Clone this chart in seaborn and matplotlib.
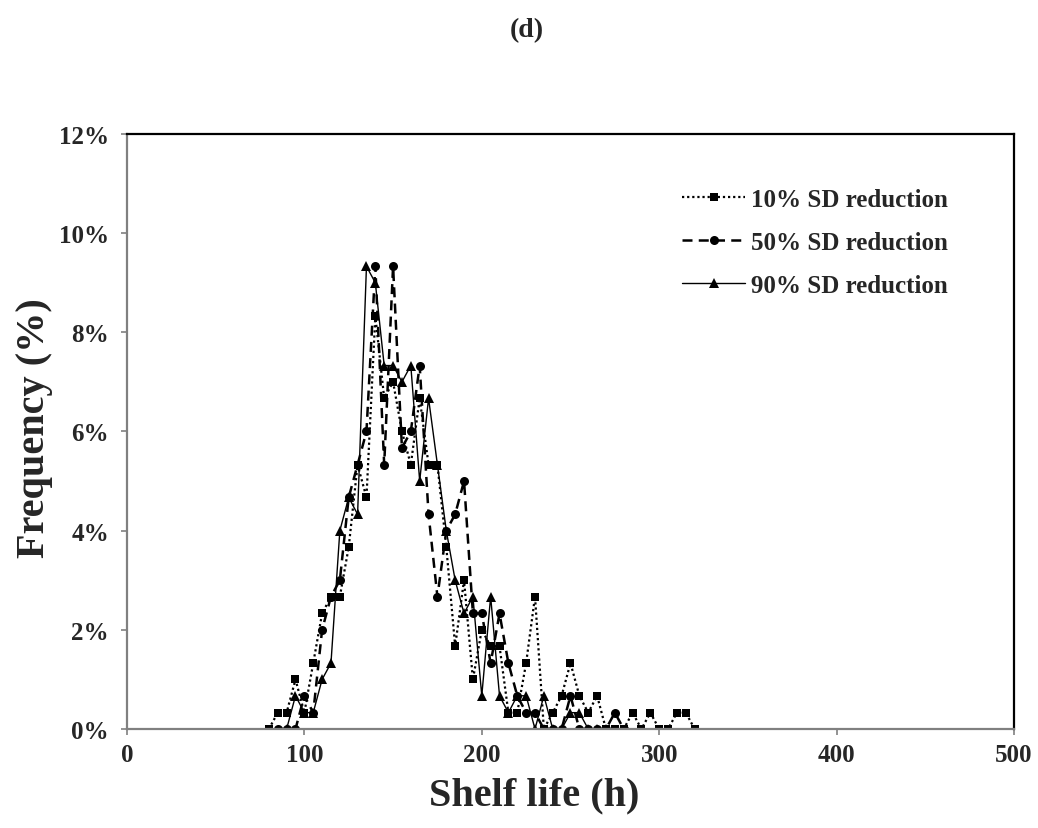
import matplotlib
matplotlib.use("Agg")
import matplotlib.pyplot as plt
import seaborn as sns
import pandas as pd
from matplotlib.ticker import PercentFormatter, MultipleLocator

# ---- data ----
shelf_life_10 = [80, 85, 90, 95, 100, 105, 110, 115, 120, 125, 130, 135, 140, 145, 150,
                 155, 160, 165, 170, 175, 180, 185, 190, 195, 200, 205, 210, 215, 220,
                 225, 230, 235, 240, 245, 250, 255, 260, 265, 270, 275, 280, 285, 290,
                 295, 300, 305, 310, 315, 320]
freq_10 = [0, 0.33, 0.33, 1.0, 0.33, 1.33, 2.33, 2.67, 2.67, 3.67, 5.33, 4.67, 8.33, 6.67, 7.0,
           6.0, 5.33, 6.67, 5.33, 5.33, 3.67, 1.67, 3.0, 1.0, 2.0, 1.67, 1.67, 0.33, 0.33,
           1.33, 2.67, 0, 0.33, 0.67, 1.33, 0.67, 0.33, 0.67, 0, 0, 0, 0.33, 0,
           0.33, 0, 0, 0.33, 0.33, 0]

shelf_life_50 = [85, 90, 95, 100, 105, 110, 115, 120, 125, 130, 135, 140, 145, 150, 155,
                 160, 165, 170, 175, 180, 185, 190, 195, 200, 205, 210, 215, 220, 225,
                 230, 235, 240, 245, 250, 255, 260, 265, 270, 275, 280]
freq_50 = [0, 0, 0, 0.67, 0.33, 2.0, 2.67, 3.0, 4.67, 5.33, 6.0, 9.33, 5.33, 9.33, 5.67,
           6.0, 7.33, 4.33, 2.67, 4.0, 4.33, 5.0, 2.33, 2.33, 1.33, 2.33, 1.33, 0.67, 0.33,
           0.33, 0, 0, 0, 0.67, 0, 0, 0, 0, 0.33, 0]

shelf_life_90 = [90, 95, 100, 105, 110, 115, 120, 125, 130, 135, 140, 145, 150, 155, 160,
                 165, 170, 175, 180, 185, 190, 195, 200, 205, 210, 215, 220, 225, 230,
                 235, 240, 245, 250, 255, 260, 265, 270]
freq_90 = [0, 0.67, 0.33, 0.33, 1.0, 1.33, 4.0, 4.67, 4.33, 9.33, 9.0, 7.33, 7.33, 7.0, 7.33,
           5.0, 6.67, 5.33, 4.0, 3.0, 2.33, 2.67, 0.67, 2.67, 0.67, 0.33, 0.67, 0.67, 0,
           0.67, 0, 0, 0.33, 0.33, 0, 0, 0]

series_labels = ["10% SD reduction", "50% SD reduction", "90% SD reduction"]
x_ticks = [0, 100, 200, 300, 400, 500]
title_text = "(d)"
x_label = "Shelf life (h)"
y_label = "Frequency (%)"

# ---- style ----
sns.set_theme(style="white")
plt.rcParams["font.family"] = ["Liberation Serif", "DejaVu Serif"]
plt.rcParams["font.weight"] = "bold"

fig = plt.figure(figsize=(10.38, 8.29), dpi=100)
ax = fig.add_axes([0.1223, 0.1194, 0.8546, 0.7178])

df10 = pd.DataFrame({"x": shelf_life_10, "y": freq_10})
df50 = pd.DataFrame({"x": shelf_life_50, "y": freq_50})
df90 = pd.DataFrame({"x": shelf_life_90, "y": freq_90})

sns.lineplot(data=df10, x="x", y="y", ax=ax, color="black", linestyle=(0, (1, 1.3)),
             linewidth=1.6, marker="s", markersize=6, markeredgewidth=0,
             label=series_labels[0], sort=False)
sns.lineplot(data=df50, x="x", y="y", ax=ax, color="black", linestyle=(0, (4, 2.5)),
             linewidth=1.8, marker="o", markersize=6.5, markeredgewidth=0,
             label=series_labels[1], sort=False)
sns.lineplot(data=df90, x="x", y="y", ax=ax, color="black", linestyle="-",
             linewidth=1.0, marker="^", markersize=7, markeredgewidth=0,
             label=series_labels[2], sort=False)

ax.set_xlim(0, 500)
ax.set_ylim(0, 12)
ax.set_xticks(x_ticks)
ax.yaxis.set_major_locator(MultipleLocator(2))
ax.yaxis.set_major_formatter(PercentFormatter(decimals=0))

for s in ["left", "bottom"]:
    ax.spines[s].set_color("#808080")
    ax.spines[s].set_linewidth(1.6)
for s in ["top", "right"]:
    ax.spines[s].set_color("black")
    ax.spines[s].set_linewidth(1.6)

ax.tick_params(axis="both", direction="out", length=4, width=1.2, color="#808080",
               labelsize=18, bottom=True, left=True)
ax.tick_params(axis="y", pad=9)
ax.tick_params(axis="x", pad=6)
for lbl in ax.get_xticklabels() + ax.get_yticklabels():
    lbl.set_fontweight("bold")

ax.set_xlabel(x_label, fontsize=29, fontweight="bold")
ax.set_ylabel(y_label, fontsize=29, fontweight="bold")
ax.xaxis.label.set_va("center")
ax.yaxis.label.set_va("center")
ax.xaxis.set_label_coords(0.459, -0.11)
ax.yaxis.set_label_coords(-0.104, 0.508)

fig.text(0.508, 0.963, title_text, ha="center", va="center", fontsize=20, fontweight="bold")

leg = ax.legend(loc="upper left", bbox_to_anchor=(0.626, 0.91), frameon=False,
                prop={"size": 18, "weight": "bold"}, handlelength=2.5,
                handletextpad=0.25, labelspacing=0.8, borderpad=0, borderaxespad=0)

fig.savefig("out.png", dpi=100)
